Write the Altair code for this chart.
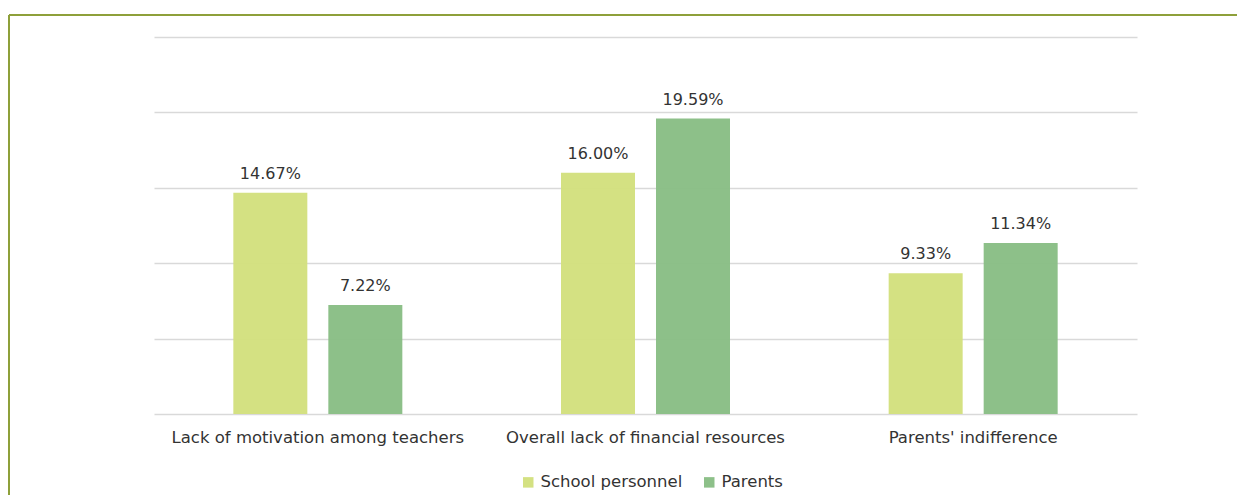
import altair as alt
import pandas as pd

categories = ["Lack of motivation among teachers", "Overall lack of financial resources", "Parents' indifference"]
series = ["School personnel", "Parents"]
school_personnel = [14.67, 16.00, 9.33]
parents = [7.22, 19.59, 11.34]
colors = ["#D3E07E", "#89BE85"]
border_color = "#8EA03A"

rows = []
for i, c in enumerate(categories):
    rows.append({"category": c, "series": series[0], "value": school_personnel[i], "label": f"{school_personnel[i]:.2f}%"})
    rows.append({"category": c, "series": series[1], "value": parents[i], "label": f"{parents[i]:.2f}%"})
df = pd.DataFrame(rows)

W, H = 983, 377
LEFT, TOP = 154, 37

x_enc = alt.X("category:N", sort=categories, title=None,
              scale=alt.Scale(paddingInner=0, paddingOuter=0),
              axis=alt.Axis(labelAngle=0, labelFontSize=16.5, labelColor="#333333",
                            labelFont="DejaVu Sans", ticks=False, domain=False, labelPadding=15,
                            labelLimit=0))
xo = alt.XOffset("series:N", sort=series, scale=alt.Scale(paddingInner=0.221, paddingOuter=0.835))
y_enc = alt.Y("value:Q", title=None,
              scale=alt.Scale(domain=[0, 25], nice=False, zero=True),
              axis=alt.Axis(values=[0, 5, 10, 15, 20, 25], labels=False, ticks=False, domain=False,
                            grid=True, gridColor="#D9D9D9", gridWidth=1.5))

base = alt.Chart(df)

bars = base.mark_bar(opacity=0.97).encode(
    x=x_enc, xOffset=xo, y=y_enc,
    color=alt.Color("series:N", sort=series,
                    scale=alt.Scale(domain=series, range=colors),
                    legend=alt.Legend(title=None, orient="none", legendX=366, legendY=437,
                                      direction="horizontal", symbolType="square", symbolSize=110,
                                      symbolStrokeWidth=0, labelFontSize=16.5, labelFont="DejaVu Sans",
                                      labelColor="#333333", columnPadding=18, symbolOffset=0,
                                      labelOffset=4)),
)

texts = base.mark_text(dy=-19, fontSize=16, font="DejaVu Sans", color="#333333").encode(
    x=x_enc, xOffset=xo, y=y_enc, text="label:N",
)

border_df = pd.DataFrame({"k": [1]})
top_line = alt.Chart(border_df).mark_rule(color=border_color, strokeWidth=2).encode(
    x=alt.value(9 - LEFT), x2=alt.value(1247 - LEFT), y=alt.value(15 - TOP))
left_line = alt.Chart(border_df).mark_rule(color=border_color, strokeWidth=2).encode(
    x=alt.value(9 - LEFT), y=alt.value(15 - TOP), y2=alt.value(500 - TOP))

chart = alt.layer(bars, texts, top_line, left_line).properties(
    width=W, height=H,
    autosize=alt.AutoSizeParams(type="none"),
    padding={"left": LEFT - 8, "top": TOP - 8, "right": 100, "bottom": 90},
).configure(background="white").configure_view(stroke=None)

chart.save("out.html", embed_options={"renderer": "svg", "actions": False})
